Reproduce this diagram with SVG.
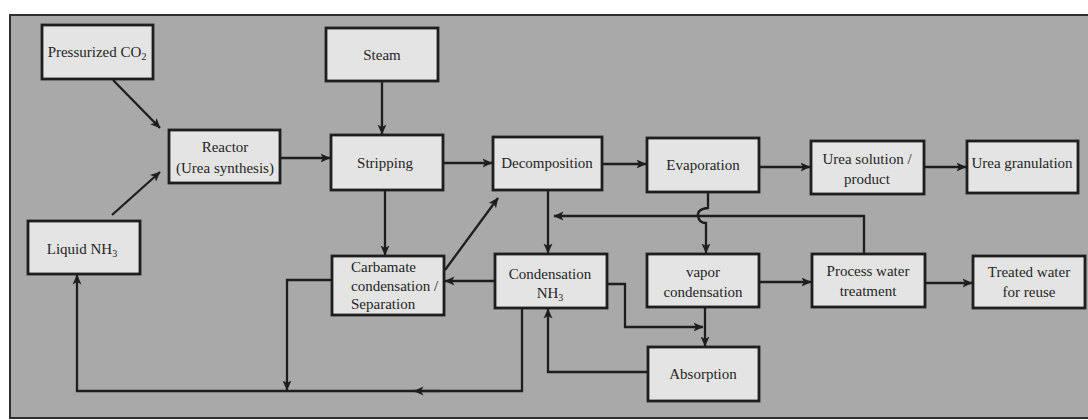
<svg xmlns="http://www.w3.org/2000/svg" width="1088" height="420" viewBox="0 0 1088 420">
<defs>
<marker id="ah" markerUnits="userSpaceOnUse" markerWidth="11" markerHeight="11" refX="9.5" refY="5.5" orient="auto">
<path d="M0,1 L10,5.5 L0,10 L2.5,5.5 z" fill="#1e1e1e"/>
</marker>
<style>
.box{fill:#e4e4e4;stroke:#1e1e1e;stroke-width:2.8}
.t{font-family:"Liberation Serif","Times New Roman",serif;font-size:15px;fill:#252525;text-anchor:middle}
.ts{font-family:"Liberation Serif","Times New Roman",serif;font-size:15px;fill:#252525}
.sub{font-size:10px}
.c{fill:none;stroke:#1e1e1e;stroke-width:2.3}
.a{marker-end:url(#ah)}
</style>
</defs>
<rect width="1088" height="420" fill="#ffffff"/>
<rect x="10" y="15" width="1090" height="403" fill="#a9a9a9" stroke="#2e2e2e" stroke-width="2"/>

<g id="connectors">
<path class="c a" d="M113,80 L160,128"/>
<path class="c a" d="M112,215 L160,172"/>
<path class="c a" d="M280,158 H330"/>
<path class="c a" d="M382,81 V134"/>
<path class="c a" d="M443,163 H492"/>
<path class="c a" d="M602,164 H646"/>
<path class="c a" d="M759,167 H810"/>
<path class="c a" d="M924,167 H966"/>
<path class="c a" d="M385,190 V255"/>
<path class="c a" d="M445,270 L498,198"/>
<path class="c a" d="M548,190 V253"/>
<path class="c a" d="M864,254 V216 H554"/>
<path class="c a" d="M708,192 V208 Q697,209 698,216 Q699,223 706,223 V253"/>
<path class="c a" d="M495,281 H445"/>
<path class="c a" d="M332,280 H287 V390"/>
<path class="c a" d="M522,308 V391 H77 V275"/>
<path class="c a" d="M440,391 H414"/>
<path class="c a" d="M607,284 H625 V327 H703"/>
<path class="c a" d="M705,307 V346"/>
<path class="c a" d="M648,372 H548 V309"/>
<path class="c a" d="M759,282 H811"/>
<path class="c a" d="M925,283 H972"/>
</g>

<g id="co2"><rect class="box" x="42" y="25" width="111" height="54"/><text class="t" x="97" y="57">Pressurized CO<tspan class="sub" dy="3">2</tspan></text></g>
<g id="reactor"><rect class="box" x="169" y="130" width="111" height="53"/><text class="t" x="225" y="152">Reactor</text><text class="t" x="225" y="173">(Urea synthesis)</text></g>
<g id="steam"><rect class="box" x="326" y="28" width="112" height="53"/><text class="t" x="382" y="60">Steam</text></g>
<g id="stripping"><rect class="box" x="331" y="135" width="112" height="55"/><text class="t" x="385" y="168">Stripping</text></g>
<g id="decomposition"><rect class="box" x="493" y="137" width="109" height="53"/><text class="t" x="547" y="168">Decomposition</text></g>
<g id="evaporation"><rect class="box" x="647" y="138" width="112" height="54"/><text class="t" x="703" y="170">Evaporation</text></g>
<g id="urea-solution"><rect class="box" x="811" y="141" width="113" height="53"/><text class="t" x="867" y="164">Urea solution /</text><text class="t" x="867" y="184">product</text></g>
<g id="urea-granulation"><rect class="box" x="967" y="141" width="111" height="52"/><text class="t" x="1022" y="168">Urea granulation</text></g>
<g id="liquid-nh3"><rect class="box" x="28" y="221" width="112" height="53"/><text class="t" x="82" y="254">Liquid NH<tspan class="sub" dy="3">3</tspan></text></g>
<g id="carbamate"><rect class="box" x="332" y="256" width="112" height="59"/><text class="ts" x="351" y="272">Carbamate</text><text class="ts" x="351" y="291">condensation /</text><text class="ts" x="351" y="309">Separation</text></g>
<g id="condensation-nh3"><rect class="box" x="495" y="254" width="112" height="54"/><text class="t" x="550" y="279">Condensation</text><text class="t" x="550" y="298">NH<tspan class="sub" dy="3">3</tspan></text></g>
<g id="vapor-condensation"><rect class="box" x="647" y="254" width="112" height="53"/><text class="t" x="703" y="277">vapor</text><text class="t" x="703" y="297">condensation</text></g>
<g id="process-water"><rect class="box" x="812" y="254" width="113" height="53"/><text class="t" x="868" y="276">Process water</text><text class="t" x="868" y="296">treatment</text></g>
<g id="treated-water"><rect class="box" x="973" y="256" width="112" height="52"/><text class="t" x="1029" y="277">Treated water</text><text class="t" x="1029" y="297">for reuse</text></g>
<g id="absorption"><rect class="box" x="648" y="347" width="111" height="54"/><text class="t" x="703" y="379">Absorption</text></g>
</svg>
